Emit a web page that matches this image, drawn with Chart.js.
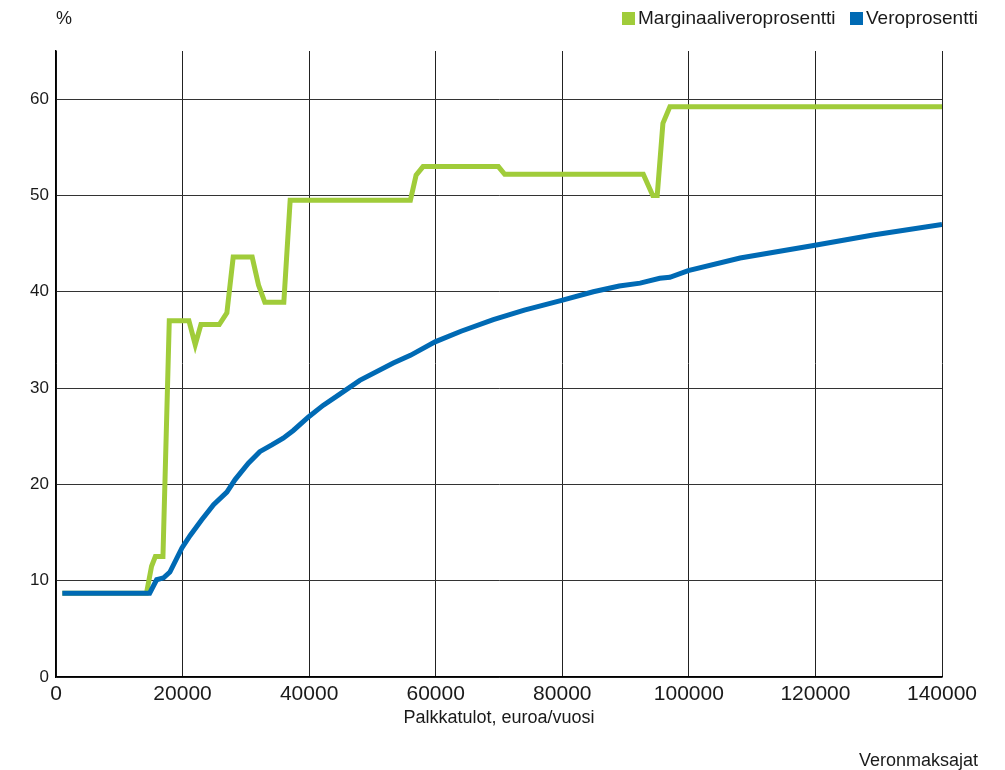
<!DOCTYPE html>
<html>
<head>
<meta charset="utf-8">
<script src="https://cdn.jsdelivr.net/npm/chart.js@4/dist/chart.umd.min.js"></script>
<style>
  body { margin: 0; background: #fff; font-family: "Liberation Sans", Arial, sans-serif; color: #1a1a1a; }
  #wrap { position: relative; width: 1005px; height: 770px; overflow: hidden; }
  #chart { position: absolute; left: 0; top: 0; }
  .txt { position: absolute; font-size: 18px; line-height: 20px; white-space: nowrap; }
  .leg { font-size: 19px; }
  .box { position: absolute; width: 13px; height: 13px; }
</style>
</head>
<body>
<div id="wrap">
  <canvas id="chart" width="1005" height="770"></canvas>
  <div class="txt" style="left:56px; top:8px;">%</div>
  <div class="box" style="left:622px; top:12px; background:#a0cc3a;"></div>
  <div class="txt leg" style="left:638px; top:8px;">Marginaaliveroprosentti</div>
  <div class="box" style="left:850px; top:12px; background:#006ab4;"></div>
  <div class="txt leg" style="left:866px; top:8px;">Veroprosentti</div>
  <div class="txt" style="right:27px; top:750px;">Veronmaksajat</div>
</div>
<script>
// Marginal tax rate (green)
const marginalIncome = [1000, 14300, 15100, 15700, 16900, 17900, 21000, 22000, 22900, 25800,
  27000, 28000, 31000, 32000, 33000, 36000, 37000, 56000, 56900, 58000,
  69900, 70900, 92800, 94300, 95000, 95900, 97000, 140000];
const marginalRate = [8.7, 8.7, 11.5, 12.5, 12.5, 37.0, 37.0, 34.5, 36.6, 36.6,
  37.8, 43.6, 43.6, 40.7, 38.9, 38.9, 49.5, 49.5, 52.1, 53.0,
  53.0, 52.2, 52.2, 50.0, 50.0, 57.5, 59.2, 59.2];

// Average tax rate (blue)
const taxIncome = [1000, 14800, 15900, 17000, 18000, 19900, 21200, 23000, 24900, 27000,
  28300, 30400, 32200, 34100, 35900, 37500, 39900, 42200, 44900, 48000,
  53300, 56000, 59900, 64000, 69100, 74000, 79900, 84900, 89000, 92300,
  95400, 97000, 99900, 108100, 119700, 129100, 140000];
const taxRate = [8.7, 8.7, 10.1, 10.3, 10.9, 13.4, 14.7, 16.3, 17.9, 19.2,
  20.5, 22.2, 23.4, 24.1, 24.8, 25.6, 27.0, 28.2, 29.4, 30.8,
  32.6, 33.4, 34.8, 35.9, 37.1, 38.1, 39.1, 40.0, 40.6, 40.9,
  41.4, 41.5, 42.2, 43.5, 44.8, 45.9, 47.0];

const xTicks = [0, 20000, 40000, 60000, 80000, 100000, 120000, 140000];
const yTicks = [0, 10, 20, 30, 40, 50, 60];

function toPoints(xs, ys) {
  return xs.map((x, i) => ({ x: x, y: ys[i] }));
}

const ctx = document.getElementById("chart").getContext("2d");

new Chart(ctx, {
  type: "line",
  data: {
    datasets: [
      {
        label: "Veroprosentti",
        data: toPoints(taxIncome, taxRate),
        borderColor: "#006ab4",
        borderWidth: 5,
        pointRadius: 0,
        tension: 0,
        fill: false
      },
      {
        label: "Marginaaliveroprosentti",
        data: toPoints(marginalIncome, marginalRate),
        borderColor: "#a0cc3a",
        borderWidth: 5,
        pointRadius: 0,
        tension: 0,
        fill: false
      }
    ]
  },
  options: {
    responsive: false,
    animation: false,
    devicePixelRatio: 1,
    layout: { padding: { top: 51, right: 63, left: 0, bottom: 41 } },
    plugins: {
      legend: { display: false },
      tooltip: { enabled: false }
    },
    scales: {
      x: {
        type: "linear",
        min: 0,
        max: 140000,
        afterBuildTicks: (scale) => { scale.ticks = xTicks.map(v => ({ value: v })); },
        afterFit: (scale) => { scale.height = 52; },
        grid: { color: "#222", lineWidth: 1, drawTicks: false },
        border: { color: "#000", width: 1.5 },
        ticks: {
          padding: 5,
          color: "#1a1a1a",
          font: { family: "Liberation Sans", size: 21 },
          callback: (v) => String(v)
        },
        title: {
          display: true,
          text: "Palkkatulot, euroa/vuosi",
          color: "#1a1a1a",
          padding: { top: 0, bottom: 0 },
          font: { family: "Liberation Sans", size: 18 }
        }
      },
      y: {
        min: 0,
        max: 65,
        afterBuildTicks: (scale) => { scale.ticks = yTicks.map(v => ({ value: v })); },
        afterFit: (scale) => { scale.width = 56; },
        grid: { color: "#333", lineWidth: 1, drawTicks: false },
        border: { color: "#000", width: 1.5 },
        ticks: {
          padding: 7,
          color: "#1a1a1a",
          font: { family: "Liberation Sans", size: 17 }
        }
      }
    }
  }
});
</script>
</body>
</html>
